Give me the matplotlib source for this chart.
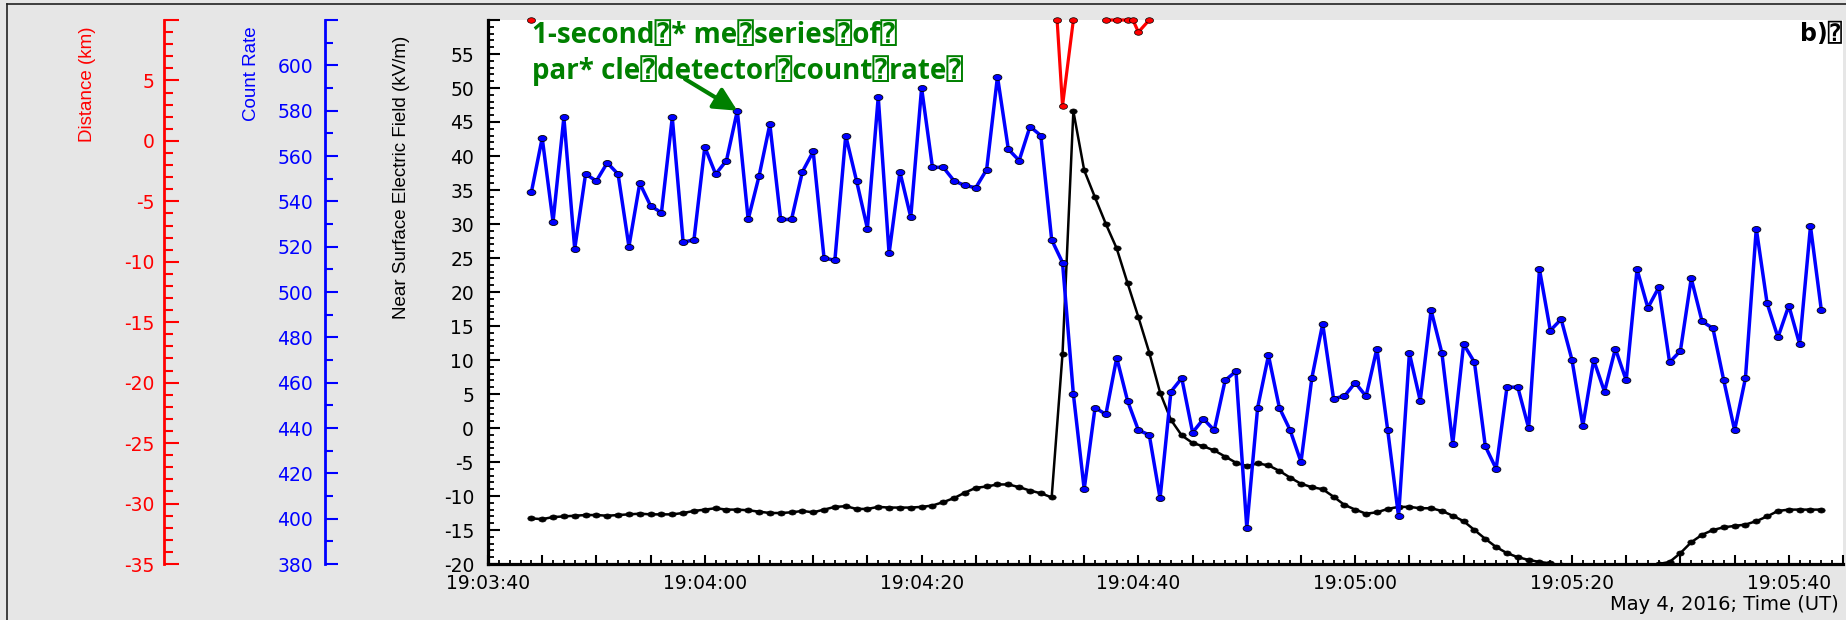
import matplotlib
matplotlib.use("Agg")
import matplotlib.pyplot as plt
import numpy as np
from matplotlib.lines import Line2D
from matplotlib.path import Path
from matplotlib.transforms import Affine2D
from matplotlib.ticker import MultipleLocator, FuncFormatter

# time axis: seconds after 19:03:40 UT, 4 May 2016 (1-second samples)
T0_HMS = (19, 3, 40)
T_RANGE = (0, 125)
SAMPLE_T = list(range(4, 124))

# particle detector count rate (blue, "Count Rate" scale)
COUNT_RATE = [
    544, 568, 531, 577, 519, 552, 549, 557, 552, 520,
    548, 538, 535, 577, 522, 523, 564, 552, 558, 580,
    532, 551, 574, 532, 532, 553, 562, 515, 514, 569,
    549, 528, 586, 517, 553, 533, 590, 555, 555, 549,
    547, 546, 554, 595, 563, 558, 573, 569, 523, 513,
    455, 413, 449, 446, 471, 452, 439, 437, 409, 456,
    462, 438, 444, 439, 461, 465, 396, 449, 472, 449,
    439, 425, 462, 486, 453, 454, 460, 454, 475, 439,
    401, 473, 452, 492, 473, 433, 477, 469, 432, 422,
    458, 458, 440, 510, 483, 488, 470, 441, 470, 456,
    475, 461, 510, 493, 502, 469, 474, 506, 487, 484,
    461, 439, 462, 528, 495, 480, 494, 477, 529, 492,
]

# near surface electric field, kV/m (black)
EFIELD = [
    -13.3, -13.4, -13.1, -13.0, -12.9, -12.8, -12.8, -12.9, -12.8, -12.7,
    -12.6, -12.7, -12.7, -12.7, -12.5, -12.2, -12.0, -11.8, -12.0, -12.0,
    -12.1, -12.3, -12.5, -12.5, -12.4, -12.2, -12.4, -12.0, -11.6, -11.5,
    -11.9, -11.9, -11.6, -11.7, -11.7, -11.7, -11.6, -11.4, -10.9, -10.3,
    -9.5, -8.8, -8.6, -8.3, -8.3, -8.7, -9.2, -9.6, -10.2, 10.9,
    46.6, 37.9, 33.9, 30.0, 26.4, 21.3, 16.3, 11.1, 5.2, 1.2,
    -1.1, -2.2, -2.7, -3.3, -4.2, -5.1, -5.6, -5.2, -5.5, -6.3,
    -7.3, -8.2, -8.7, -9.0, -10.1, -11.3, -12.0, -12.6, -12.4, -11.9,
    -11.6, -11.6, -11.8, -11.8, -12.2, -12.9, -13.7, -15.0, -16.3, -17.5,
    -18.4, -19.0, -19.4, -19.7, -19.9, -20.2, -20.6, -21.0, -21.3, -21.5,
    -21.5, -21.2, -20.8, -20.4, -20.0, -19.7, -18.4, -16.8, -15.7, -15.0,
    -14.6, -14.4, -14.2, -13.7, -13.0, -12.2, -12.0, -12.0, -12.0, -12.0,
]

# lightning distance, km (red); nan breaks the line
LIGHTNING_T = [4, np.nan, 52.5, 53.0, 54.0, np.nan, 57.0, 58.0, 59.0, 59.5, 60.0, 61.0]
LIGHTNING_KM = [10, np.nan, 10, 2.9, 10, np.nan, 10, 10, 10, 10, 9.0, 10]

EF_LIM = (-20, 60)
COUNT_LIM = (380, 620)
DIST_LIM = (-35, 10)

GREEN = "#008000"
ANNOT_LINES = ["1-second\u2370* me\u2370series\u2370of\u2370",
               "par* cle\u2370detector\u2370count\u2370rate\u2370"]
PANEL_TAG = "b)\u2370"

W, H = 1846, 620
AX_L, AX_R, AX_T, AX_B = 488, 1843, 20, 564


def fx(px):
    return px / W


def fy(py):
    return 1 - py / H


def hms(t, pos=None):
    t = int(round(t))
    if t % 20:
        return ""
    s = T0_HMS[0] * 3600 + T0_HMS[1] * 60 + T0_HMS[2] + t
    return f"{s // 3600}:{(s // 60) % 60:02d}:{s % 60:02d}"


def skip_top(top):
    return FuncFormatter(lambda v, pos: "" if abs(v - top) < 1e-6 else f"{v:g}")


ellipse = Path.unit_circle().transformed(Affine2D().scale(1.45, 1.0))

fig = plt.figure(figsize=(W / 100, H / 100), dpi=100, facecolor="#e6e6e6")
ax = fig.add_axes([fx(AX_L), fy(AX_B), fx(AX_R - AX_L), (AX_B - AX_T) / H])
ax.set_facecolor("white")

# electric field
ax.plot(SAMPLE_T, EFIELD, color="black", lw=1.8, marker=ellipse, ms=5.3,
        mfc="black", mec="black", mew=0.5, zorder=3)
ax.set_xlim(*T_RANGE)
ax.set_ylim(*EF_LIM)
for s in ("top", "right"):
    ax.spines[s].set_visible(False)
for s in ("left", "bottom"):
    ax.spines[s].set_linewidth(2.3)
ax.xaxis.set_major_locator(MultipleLocator(5))
ax.xaxis.set_minor_locator(MultipleLocator(1))
ax.xaxis.set_major_formatter(FuncFormatter(hms))
ax.yaxis.set_major_locator(MultipleLocator(5))
ax.yaxis.set_minor_locator(MultipleLocator(1))
ax.yaxis.set_major_formatter(skip_top(EF_LIM[1]))
ax.tick_params(axis="x", which="major", direction="in", length=6.8, width=1.5,
               labelsize=13.5, pad=7)
ax.tick_params(axis="x", which="minor", direction="in", length=2.6, width=1.3)
ax.tick_params(axis="y", which="major", direction="in", length=8.5, width=1.5,
               labelsize=13.5, pad=10)
ax.tick_params(axis="y", which="minor", direction="in", length=4.3, width=1.3)

# count rate axis
axc = ax.twinx()
axc.plot(SAMPLE_T, COUNT_RATE, color="blue", lw=2.5, marker=ellipse, ms=6.3,
         mfc="blue", mec="black", mew=0.6, zorder=3)
axc.set_ylim(*COUNT_LIM)
for s in ("top", "right", "bottom"):
    axc.spines[s].set_visible(False)
axc.spines["left"].set_visible(True)
axc.spines["left"].set_position(("axes", (325 - AX_L) / (AX_R - AX_L)))
axc.spines["left"].set_color("blue")
axc.spines["left"].set_linewidth(2.0)
axc.yaxis.set_ticks_position("left")
axc.yaxis.set_major_locator(MultipleLocator(20))
axc.yaxis.set_minor_locator(MultipleLocator(10))
axc.yaxis.set_major_formatter(skip_top(COUNT_LIM[1]))
axc.tick_params(axis="y", which="major", direction="in", length=9.4, width=1.5,
                colors="blue", labelsize=13.5, pad=8.5)
axc.tick_params(axis="y", which="minor", direction="in", length=5.8, width=1.5,
                colors="blue")

# lightning distance axis
axd = ax.twinx()
axd.plot(LIGHTNING_T, LIGHTNING_KM, color="red", lw=2.3, marker=ellipse, ms=5.8,
         mfc="red", mec="black", mew=0.5, clip_on=False, zorder=4)
axd.set_ylim(*DIST_LIM)
for s in ("top", "right", "bottom"):
    axd.spines[s].set_visible(False)
axd.spines["left"].set_visible(True)
axd.spines["left"].set_position(("axes", (164 - AX_L) / (AX_R - AX_L)))
axd.spines["left"].set_color("red")
axd.spines["left"].set_linewidth(2.0)
axd.yaxis.set_ticks_position("left")
axd.yaxis.set_major_locator(MultipleLocator(5))
axd.yaxis.set_minor_locator(MultipleLocator(1))
axd.yaxis.set_major_formatter(skip_top(DIST_LIM[1]))
axd.tick_params(axis="y", which="major", direction="in", length=10.8, width=1.5,
                colors="red", labelsize=13.5, pad=7)
axd.tick_params(axis="y", which="minor", direction="in", length=6.5, width=1.5,
                colors="red")

# axis titles (top-aligned, as in the original)
lab = dict(rotation=90, ha="center", va="top", family="Liberation Sans", size=13.5)
fig.text(fx(88), fy(26), "Distance (km)", color="red", **lab)
fig.text(fx(251), fy(26), "Count Rate", color="blue", **lab)
fig.text(fx(401), fy(36), "Near Surface Electric Field (kV/m)", color="black", **lab)
fig.text(fx(1839), fy(605), "May 4, 2016; Time (UT)", ha="right", va="center",
         size=14, color="black")

# annotation
fam = ["Open Sans", "DejaVu Sans", "DejaVu Sans Mono"]
for line, base in zip(ANNOT_LINES, (43, 79)):
    ax.text((532 - AX_L) / (AX_R - AX_L), (AX_B - base) / (AX_B - AX_T), line,
            transform=ax.transAxes, ha="left", va="baseline", color=GREEN,
            fontsize=20, fontweight="bold", family=fam, zorder=6)
i_arrow = SAMPLE_T.index(23)
axc.annotate("", xy=(SAMPLE_T[i_arrow], COUNT_RATE[i_arrow]), xycoords="data",
             xytext=((685 - AX_L) / (AX_R - AX_L), (AX_B - 79) / (AX_B - AX_T)),
             textcoords="axes fraction",
             arrowprops=dict(arrowstyle="-|>,head_length=0.7,head_width=0.35",
                             mutation_scale=20, lw=3, color=GREEN,
                             shrinkA=0, shrinkB=0), zorder=6)
ax.text((1842 - AX_L) / (AX_R - AX_L), (AX_B - 22) / (AX_B - AX_T), PANEL_TAG,
        transform=ax.transAxes, ha="right", va="top", fontsize=17,
        fontweight="bold", family=["DejaVu Sans", "DejaVu Sans Mono"], zorder=6)

# frame lines of the original panel
fig.add_artist(Line2D([fx(7), fx(7)], [0, fy(4)], color="#222222", lw=1.2))
fig.add_artist(Line2D([fx(7), 1], [fy(4), fy(4)], color="#222222", lw=1.2))

fig.savefig("out.png", dpi=100, facecolor=fig.get_facecolor())
